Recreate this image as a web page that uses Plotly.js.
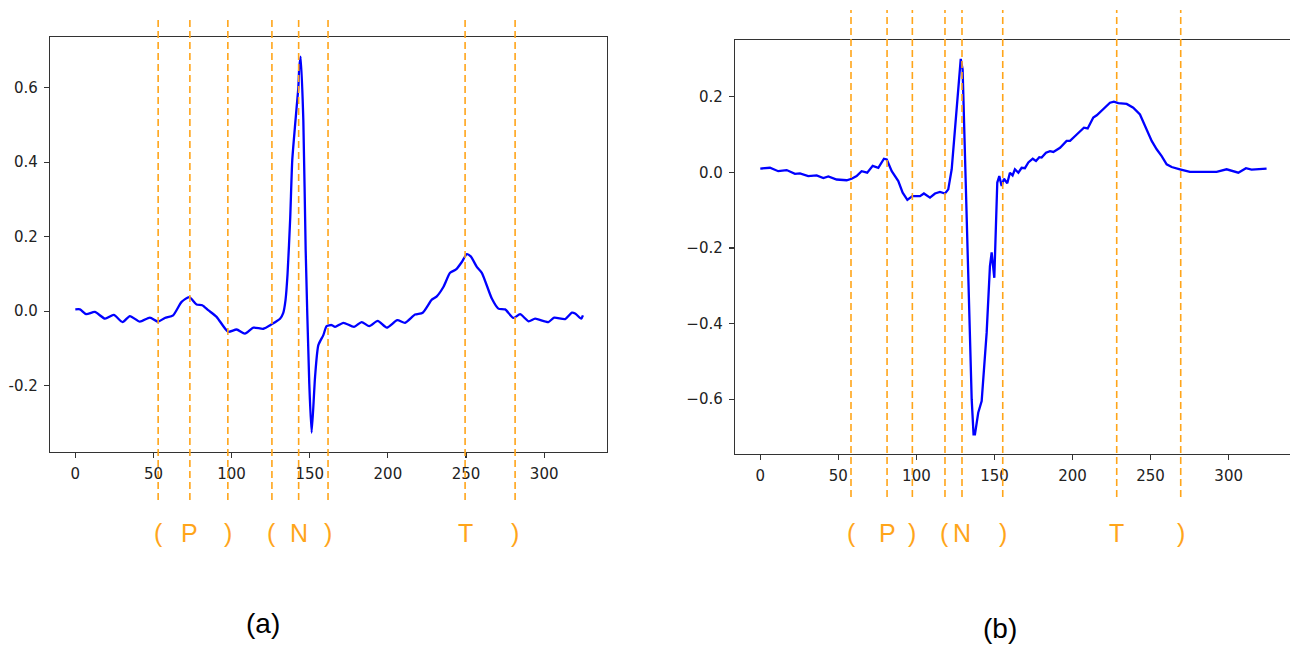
<!DOCTYPE html>
<html>
<head>
<meta charset="utf-8">
<script src="https://cdn.plot.ly/plotly-3.0.1.min.js"></script>
<style>html,body{margin:0;padding:0;background:#fff;}#chart{width:1290px;height:648px;}</style>
</head>
<body>
<div id="chart"></div>
<script>
// ---- Data: panel (a) ----
const xA = [0, 3, 7, 12.5, 19, 24.6, 30.2, 34.9, 41.3, 47.7, 53, 57.3, 62.6, 68, 72.9, 77.6, 81.2, 85, 90.4, 97.8, 103.2, 108.5, 113.9, 120.3, 125.6, 131, 133, 134.5, 135.8, 137.5, 138.8, 140.5, 141.6, 142.7, 143.3, 144.2, 145.9, 147.4, 149.7, 151.2, 153.4, 155.5, 158.7, 160.8, 164, 166.2, 171.5, 178.3, 183.2, 188.1, 193.5, 199.3, 206, 211, 217.4, 222.3, 228.1, 231.3, 235.5, 239.8, 243.6, 247.3, 250.5, 253, 256.9, 260.1, 266.5, 270.7, 275, 280.3, 284.6, 290, 294.2, 302.7, 306.4, 313.4, 317.7, 319.8, 323.7, 324.8];
const yA = [0.005, 0.005, -0.008, -0.002, -0.020, -0.010, -0.029, -0.013, -0.028, -0.017, -0.028, -0.018, -0.011, 0.025, 0.038, 0.018, 0.016, 0.003, -0.015, -0.055, -0.049, -0.060, -0.044, -0.047, -0.035, -0.020, -0.005, 0.030, 0.100, 0.250, 0.404, 0.493, 0.547, 0.600, 0.654, 0.683, 0.511, 0.163, -0.194, -0.326, -0.176, -0.091, -0.064, -0.040, -0.037, -0.042, -0.031, -0.042, -0.029, -0.040, -0.026, -0.044, -0.024, -0.031, -0.009, -0.004, 0.031, 0.040, 0.065, 0.103, 0.112, 0.132, 0.153, 0.147, 0.119, 0.103, 0.034, 0.007, 0.005, -0.018, -0.008, -0.027, -0.020, -0.029, -0.017, -0.021, -0.004, -0.006, -0.020, -0.011];
const boundsA = [53, 73.3, 97.6, 125.8, 142.9, 161.7, 249.4, 281.4];
const labelsA = ['(', 'P', ')', '(', 'N', ')', 'T', ')'];

// ---- Data: panel (b) ----
const xB = [0, 6.2, 11.5, 16.9, 22.2, 25.4, 30.7, 36.1, 40.4, 43.6, 48.9, 55.3, 58.5, 61.7, 64.9, 68.5, 72, 75.6, 79.2, 81, 84.2, 88.4, 91.2, 94.2, 97.4, 102.3, 104.8, 108.7, 111.9, 115.1, 118.3, 120.4, 122.6, 124.7, 126.8, 128.4, 129.6, 131.1, 132.9, 135.4, 136.6, 137.5, 139.6, 141.8, 145, 147.1, 148.2, 149.9, 151.8, 153.1, 154.6, 156.1, 158.2, 159.9, 161.6, 163.1, 165.3, 167.4, 169.5, 171.7, 174.5, 176.6, 178.7, 180.2, 183, 185.6, 187.7, 192, 196.2, 198.4, 202.7, 207.3, 209.7, 213.3, 215.5, 219.7, 224, 226.5, 229.3, 234.7, 238.9, 243.2, 246.4, 250.7, 253.9, 257.1, 260.3, 263.5, 268.8, 275.2, 283.7, 292.3, 298.7, 303, 306.2, 311.1, 314.7, 324.3];
const yB = [0.010, 0.012, 0.003, 0.006, -0.004, -0.003, -0.010, -0.008, -0.015, -0.011, -0.019, -0.021, -0.017, -0.010, 0.003, -0.001, 0.017, 0.012, 0.036, 0.034, 0.003, -0.023, -0.054, -0.073, -0.063, -0.063, -0.056, -0.067, -0.056, -0.052, -0.056, -0.045, 0.008, 0.114, 0.228, 0.300, 0.272, 0.052, -0.204, -0.600, -0.693, -0.693, -0.636, -0.605, -0.424, -0.248, -0.212, -0.279, -0.027, -0.010, -0.036, -0.017, -0.029, -0.001, -0.008, 0.008, -0.001, 0.012, 0.011, 0.026, 0.036, 0.030, 0.040, 0.039, 0.052, 0.056, 0.054, 0.065, 0.083, 0.083, 0.100, 0.118, 0.116, 0.145, 0.151, 0.168, 0.184, 0.187, 0.183, 0.181, 0.171, 0.153, 0.122, 0.083, 0.061, 0.043, 0.021, 0.014, 0.008, 0.001, 0.001, 0.001, 0.008, 0.003, -0.001, 0.011, 0.007, 0.010];
const boundsB = [58.1, 81.2, 97.4, 118.3, 129.2, 155.3, 228.3, 269.3];
const labelsB = ['(', 'P', ')', '(', 'N', ')', 'T', ')'];

// ---- Tick labels ----
const xTickVals = [0, 50, 100, 150, 200, 250, 300];
const xTickText = ['0', '50', '100', '150', '200', '250', '300'];
const yTickValsA = [-0.2, 0.0, 0.2, 0.4, 0.6];
const yTickTextA = ['-0.2', '0.0', '0.2', '0.4', '0.6'];
const yTickValsB = [-0.6, -0.4, -0.2, 0.0, 0.2];
const yTickTextB = ['\u22120.6', '\u22120.4', '\u22120.2', '0.0', '0.2'];
const panelTitles = ['(a)', '(b)'];

// ---- Styling ----
const W = 1290, H = 648;
const ORANGE = '#FFA51A';
const tickFont = {family: 'DejaVu Sans, sans-serif', size: 15, color: '#222'};
const axisCommon = {
  showline: true, mirror: true, linecolor: '#333', linewidth: 1.2,
  ticks: 'outside', ticklen: 5, tickwidth: 1.2, tickcolor: '#333',
  showgrid: false, zeroline: false, tickfont: tickFont, tickmode: 'array',
  ticklabelstandoff: 3
};

const traces = [
  {x: xA, y: yA, xaxis: 'x', yaxis: 'y', mode: 'lines', line: {color: '#0000FF', width: 2.3, shape: 'spline', smoothing: 0.6}, hoverinfo: 'skip'},
  {x: xB, y: yB, xaxis: 'x2', yaxis: 'y2', mode: 'lines', line: {color: '#0000FF', width: 2.3}, hoverinfo: 'skip'}
];

const shapes = [];
const annotations = [];
function addMarks(bounds, labels, xref, yTop, yBot) {
  bounds.forEach((b, i) => {
    shapes.push({type: 'line', xref: xref, yref: 'paper', x0: b, x1: b,
      y0: (H - yBot) / H, y1: (H - yTop) / H,
      line: {color: ORANGE, width: 1.6, dash: '7px,4px'}, layer: 'above'});
    annotations.push({xref: xref, yref: 'paper', x: b, y: (H - 533) / H,
      text: labels[i], showarrow: false, xanchor: 'center', yanchor: 'middle',
      font: {family: 'Liberation Sans, Arial, sans-serif', size: 25, color: ORANGE}});
  });
}
addMarks(boundsA, labelsA, 'x', 20, 500);
addMarks(boundsB, labelsB, 'x2', 10, 497);

annotations.push({xref: 'paper', yref: 'paper', x: 263 / W, y: (H - 623) / H, text: panelTitles[0],
  showarrow: false, xanchor: 'center', yanchor: 'middle',
  font: {family: 'Liberation Sans, Arial, sans-serif', size: 28, color: '#000'}});
annotations.push({xref: 'paper', yref: 'paper', x: 1000 / W, y: (H - 628) / H, text: panelTitles[1],
  showarrow: false, xanchor: 'center', yanchor: 'middle',
  font: {family: 'Liberation Sans, Arial, sans-serif', size: 28, color: '#000'}});

const layout = {
  width: W, height: H, margin: {l: 0, r: 0, t: 0, b: 0},
  paper_bgcolor: '#fff', plot_bgcolor: '#fff', showlegend: false,
  xaxis: Object.assign({}, axisCommon, {domain: [50 / W, 607 / W], range: [-16.2, 340.2], anchor: 'y',
    tickvals: xTickVals, ticktext: xTickText}),
  yaxis: Object.assign({}, axisCommon, {domain: [(H - 452) / H, (H - 37) / H], range: [-0.3776, 0.7356], anchor: 'x',
    tickvals: yTickValsA, ticktext: yTickTextA}),
  xaxis2: Object.assign({}, axisCommon, {domain: [735 / W, 1], range: [-16.2, 339.3], anchor: 'y2',
    tickvals: xTickVals, ticktext: xTickText}),
  yaxis2: Object.assign({}, axisCommon, {domain: [(H - 454) / H, (H - 40) / H], range: [-0.745, 0.35], anchor: 'x2',
    tickvals: yTickValsB, ticktext: yTickTextB}),
  shapes: shapes,
  annotations: annotations
};

Plotly.newPlot('chart', traces, layout, {staticPlot: true, displayModeBar: false});
</script>
</body>
</html>
